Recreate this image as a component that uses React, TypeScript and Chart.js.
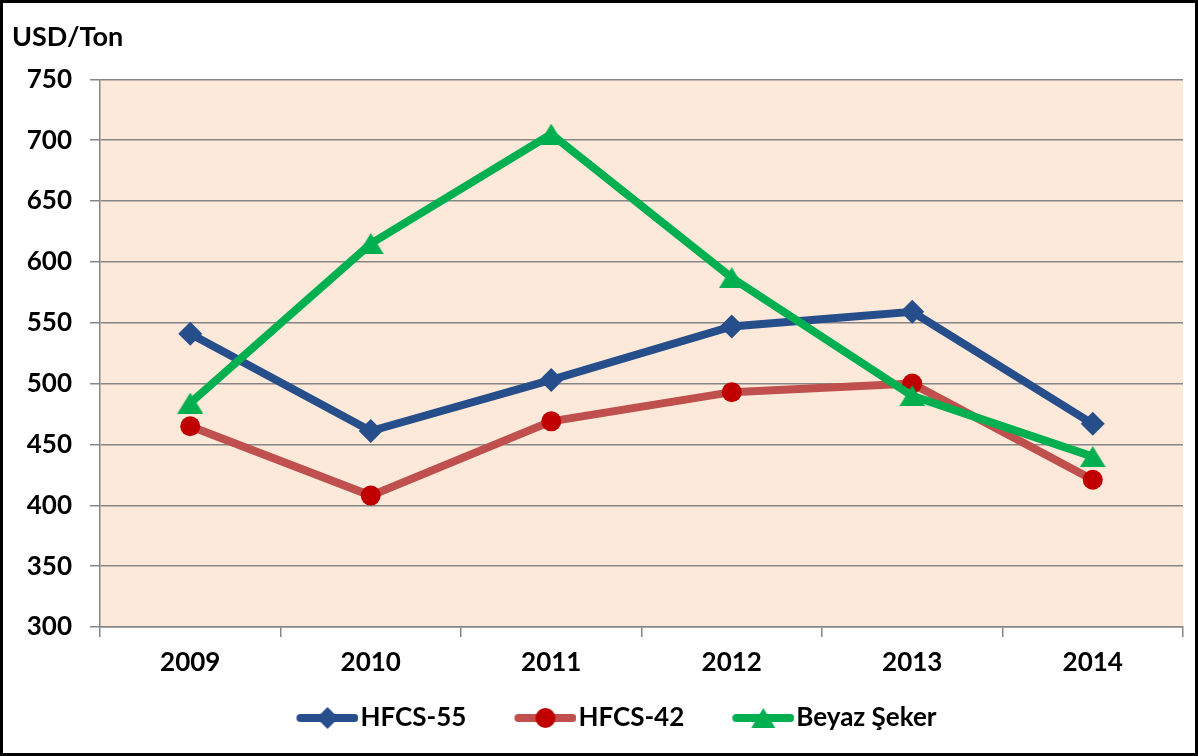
import React, { useEffect, useRef } from 'react';
import { Chart, registerables } from 'chart.js';

Chart.register(...registerables);

const categories = ['2009', '2010', '2011', '2012', '2013', '2014'];
const hfcs55 = [541, 461, 503, 547, 559, 467];
const hfcs42 = [465, 408, 469, 493, 500, 421];
const beyazSeker = [484, 615, 705, 587, 490, 440];
const seriesNames = ['HFCS-55', 'HFCS-42', 'Beyaz Şeker'];
const yAxisTitle = 'USD/Ton';
const yMin = 300;
const yMax = 750;
const yStep = 50;

const BLUE = '#264E8B';
const RED_LINE = '#C0504D';
const RED_MARK = '#C00000';
const GREEN = '#00B050';
const FONT = 'Lato, "Open Sans", sans-serif';

function makeTriangle(color: string, w: number, h: number) {
  const c = document.createElement('canvas');
  c.width = w;
  c.height = h;
  const ctx = c.getContext('2d')!;
  ctx.fillStyle = color;
  ctx.beginPath();
  ctx.moveTo(w / 2, 0);
  ctx.lineTo(w, h);
  ctx.lineTo(0, h);
  ctx.closePath();
  ctx.fill();
  return c;
}

const MARGIN = 49;
const LINE_LEN = 62;
const ICON_W = MARGIN + LINE_LEN;
const PSW = ICON_W - 22;

function makeLegendIcon(lineColor: string, markerColor: string, marker: string) {
  const h = 26;
  const c = document.createElement('canvas');
  c.width = ICON_W;
  c.height = h;
  const ctx = c.getContext('2d')!;
  const cy = h / 2;
  ctx.strokeStyle = lineColor;
  ctx.lineWidth = 8;
  ctx.lineCap = 'round';
  ctx.beginPath();
  ctx.moveTo(MARGIN + 4, cy);
  ctx.lineTo(MARGIN + LINE_LEN - 4, cy);
  ctx.stroke();
  const cx = MARGIN + LINE_LEN / 2;
  ctx.fillStyle = markerColor;
  ctx.beginPath();
  if (marker === 'diamond') {
    ctx.moveTo(cx - 11, cy);
    ctx.lineTo(cx, cy - 11);
    ctx.lineTo(cx + 11, cy);
    ctx.lineTo(cx, cy + 11);
  } else if (marker === 'circle') {
    ctx.arc(cx, cy, 10, 0, Math.PI * 2);
  } else {
    ctx.moveTo(cx, cy - 10);
    ctx.lineTo(cx + 12, cy + 10);
    ctx.lineTo(cx - 12, cy + 10);
  }
  ctx.closePath();
  ctx.fill();
  return c;
}

const plotBg = {
  id: 'plotBg',
  beforeDraw(chart: any) {
    const { ctx, chartArea } = chart;
    ctx.save();
    ctx.fillStyle = '#FDE9D9';
    ctx.fillRect(chartArea.left, chartArea.top, chartArea.right - chartArea.left, chartArea.bottom - chartArea.top);
    ctx.restore();
  },
};

export default function App() {
  const ref = useRef<HTMLCanvasElement | null>(null);

  useEffect(() => {
    if (!ref.current) return;
    const tri = makeTriangle(GREEN, 26, 21);
    const icons = [
      makeLegendIcon(BLUE, BLUE, 'diamond'),
      makeLegendIcon(RED_LINE, RED_MARK, 'circle'),
      makeLegendIcon(GREEN, GREEN, 'triangle'),
    ];
    const tickFont = { family: FONT, size: 26, weight: 'bold' as const };
    const chart = new Chart(ref.current, {
      type: 'line',
      data: {
        labels: categories,
        datasets: [
          {
            label: seriesNames[0],
            data: hfcs55,
            borderColor: BLUE,
            backgroundColor: BLUE,
            borderWidth: 8,
            pointStyle: 'rectRot',
            pointRadius: 12,
            pointBackgroundColor: BLUE,
            pointBorderWidth: 0,
            order: 3,
            tension: 0,
          },
          {
            label: seriesNames[1],
            data: hfcs42,
            borderColor: RED_LINE,
            backgroundColor: RED_MARK,
            borderWidth: 8,
            pointStyle: 'circle',
            pointRadius: 10,
            pointBackgroundColor: RED_MARK,
            pointBorderWidth: 0,
            order: 2,
            tension: 0,
          },
          {
            label: seriesNames[2],
            data: beyazSeker,
            borderColor: GREEN,
            backgroundColor: GREEN,
            borderWidth: 8,
            pointStyle: tri as any,
            pointRadius: 12,
            pointBackgroundColor: GREEN,
            pointBorderWidth: 0,
            order: 1,
            tension: 0,
          },
        ],
      },
      options: {
        animation: false,
        responsive: false,
        devicePixelRatio: 1,
        layout: { padding: { left: 9, right: 12, top: 4, bottom: 12 } },
        plugins: {
          title: {
            display: true,
            text: yAxisTitle,
            align: 'start',
            color: '#000',
            font: { family: FONT, size: 27, weight: 'bold' as const },
            padding: { top: 14, bottom: 26 },
          },
          legend: {
            position: 'bottom',
            labels: {
              usePointStyle: true,
              pointStyleWidth: PSW,
              padding: 10,
              color: '#000',
              font: tickFont,
              generateLabels: () =>
                icons.map((img, i) => ({
                  text: seriesNames[i],
                  pointStyle: img as any,
                  fillStyle: 'transparent',
                  strokeStyle: 'transparent',
                  lineWidth: 0,
                  hidden: false,
                  datasetIndex: i,
                })),
            },
          },
          tooltip: { enabled: false },
        },
        scales: {
          x: {
            offset: true,
            grid: {
              offset: true,
              drawOnChartArea: false,
              tickLength: 10,
              color: '#868686',
              lineWidth: 1.5,
            },
            border: { color: '#868686', width: 1.5 },
            ticks: { font: tickFont, color: '#000', padding: 10 },
            afterFit: (s: any) => {
              s.height = 68;
            },
          },
          y: {
            min: yMin,
            max: yMax,
            ticks: { stepSize: yStep, font: tickFont, color: '#000', padding: 18 },
            grid: { color: '#868686', lineWidth: 1.5, tickLength: 10 },
            border: { color: '#868686', width: 1.5 },
            afterFit: (s: any) => {
              s.width = 88;
            },
          },
        },
      },
      plugins: [plotBg],
    });
    return () => chart.destroy();
  }, []);

  return (
    <div
      style={{
        position: 'absolute',
        left: 0,
        top: 0,
        width: 1198,
        height: 756,
        boxSizing: 'border-box',
        border: '3px solid #000',
        background: '#fff',
      }}
    >
      <canvas ref={ref} width={1192} height={750} style={{ display: 'block' }} />
    </div>
  );
}
